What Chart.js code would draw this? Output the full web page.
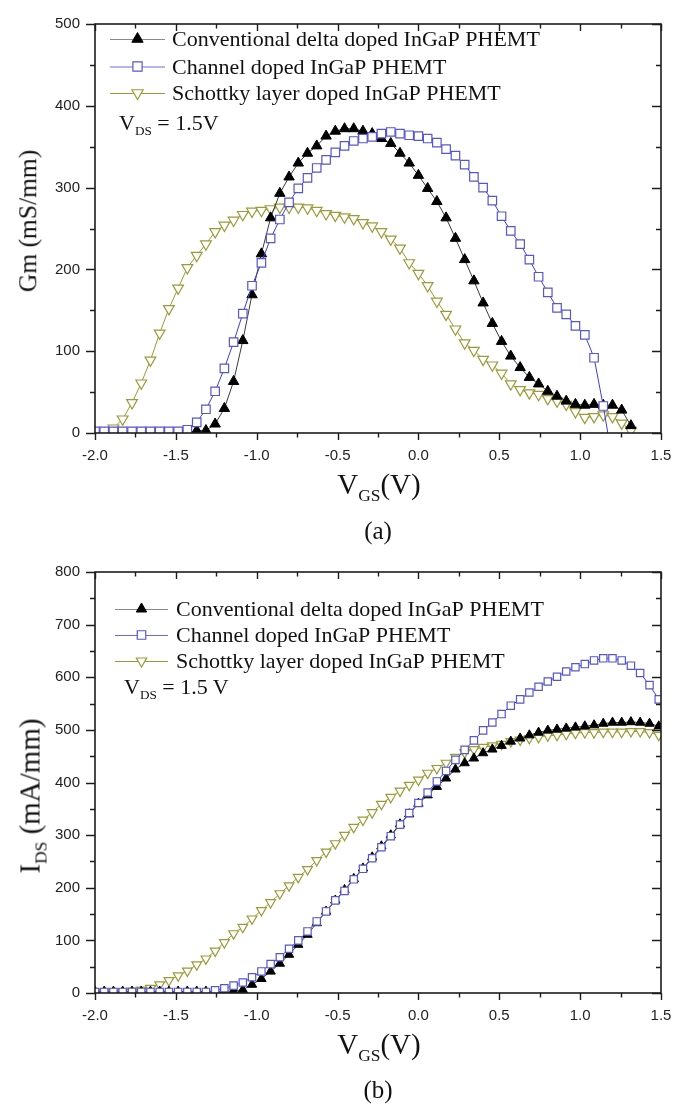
<!DOCTYPE html>
<html>
<head>
<meta charset="utf-8">
<script src="https://cdn.jsdelivr.net/npm/chart.js@4.4.1/dist/chart.umd.min.js"></script>
<style>
  html, body { margin: 0; padding: 0; background: #fff; }
  body { width: 693px; height: 1108px; position: relative; overflow: hidden;
         font-family: "Liberation Serif", "Times New Roman", serif; color: #111; }
  canvas { position: absolute; left: 0; }
  .t { position: absolute; white-space: nowrap; line-height: 1; }
  .t sub { font-size: 0.6em; vertical-align: baseline; position: relative; top: 0.38em; }
  .ctr { transform: translateX(-50%); }
  .rot { transform: translate(-50%, -50%) rotate(-90deg); }
</style>
</head>
<body>
<canvas id="gmChart" width="693" height="548" style="top:0"></canvas>
<canvas id="idsChart" width="693" height="560" style="top:548px"></canvas>

<div class="t rot" style="left:28px; top:221px; font-size:25.5px;">Gm (mS/mm)</div>
<div class="t ctr" style="left:379px; top:470px; font-size:29px;">V<sub>GS</sub>(V)</div>
<div class="t ctr" style="left:378px; top:518px; font-size:25px;">(a)</div>
<div class="t" style="left:119px; top:112px; font-size:22px;">V<sub>DS</sub> = 1.5V</div>

<div class="t rot" style="left:30px; top:796px; font-size:29px;">I<sub>DS</sub> (mA/mm)</div>
<div class="t ctr" style="left:379px; top:1030px; font-size:29px;">V<sub>GS</sub>(V)</div>
<div class="t ctr" style="left:378px; top:1077px; font-size:25px;">(b)</div>
<div class="t" style="left:124px; top:676px; font-size:22px;">V<sub>DS</sub> = 1.5 V</div>

<script>
// Gate bias sweep shared by every curve (V)
const vgs = [
  -2.000, -1.943, -1.886, -1.829, -1.771, -1.714, -1.657, -1.600, -1.543, -1.486,
  -1.429, -1.371, -1.314, -1.257, -1.200, -1.143, -1.086, -1.029, -0.971, -0.914,
  -0.857, -0.800, -0.743, -0.686, -0.629, -0.571, -0.514, -0.457, -0.400, -0.343,
  -0.286, -0.229, -0.171, -0.114, -0.057,  0.000,  0.057,  0.114,  0.171,  0.229,
   0.286,  0.343,  0.400,  0.457,  0.514,  0.571,  0.629,  0.686,  0.743,  0.800,
   0.857,  0.914,  0.971,  1.029,  1.086,  1.143,  1.200,  1.257,  1.314,  1.371,
   1.429,  1.486
];

const seriesNames = [
  'Conventional delta doped InGaP PHEMT',
  'Channel doped InGaP PHEMT',
  'Schottky layer doped InGaP PHEMT'
];

// (a) transconductance, mS/mm
const gmConventional = [
  0, 0, 0, 0, 0, 0, 0, 0, 0, 0,
  0, 3, 3, 11, 30, 63, 113, 169, 219, 263,
  293, 313, 330, 342, 351, 363, 369, 372, 372, 369,
  366, 360, 354, 342, 330, 315, 299, 283, 263, 238,
  212, 186, 159, 134, 112, 94, 80, 68, 60, 51,
  45, 39, 35, 34, 35, 34, 34, 28, 9, null,
  null, null
];
const gmChannel = [
  2, 2, 2, 2, 2, 2, 2, 2, 2, 2,
  4, 13, 29, 51, 79, 111, 146, 180, 208, 238,
  261, 282, 299, 312, 324, 334, 343, 351, 357, 360,
  362, 366, 368, 366, 364, 363, 360, 355, 347, 339,
  328, 313, 300, 284, 265, 247, 231, 212, 191, 172,
  153, 145, 131, 120, 92, 33, -34, null, null, null,
  null, null
];
const gmSchottky = [
  1, 2, 6, 17, 37, 61, 89, 122, 152, 177,
  202, 217, 231, 246, 254, 260, 267, 271, 272, 274,
  276, 276, 276, 275, 272, 268, 266, 264, 262, 257,
  253, 246, 237, 226, 208, 195, 180, 161, 145, 127,
  110, 101, 90, 83, 73, 60, 53, 49, 47, 42,
  39, 35, 26, 19, 20, 22, 20, 12, 3, null,
  null, null
];

// (b) drain current, mA/mm
const idsConventional = [
  3, 3, 3, 3, 3, 3, 3, 3, 3, 3,
  3, 3, 3, 3, 3, 4, 6, 16, 27, 41,
  56, 73, 92, 111, 133, 155, 176, 196, 217, 237,
  258, 279, 300, 321, 340, 360, 376, 392, 408, 425,
  437, 446, 456, 463, 470, 478, 484, 490, 495, 499,
  501, 503, 505, 507, 509, 512, 514, 514, 515, 514,
  512, 507
];
const idsChannel = [
  2, 2, 2, 2, 2, 2, 2, 2, 2, 2,
  2, 2, 2, 5, 9, 14, 20, 30, 41, 55,
  68, 84, 100, 117, 136, 155, 176, 194, 216, 236,
  256, 277, 298, 320, 342, 361, 381, 402, 422, 443,
  462, 480, 499, 514, 530, 546, 558, 571, 582, 592,
  601, 611, 619, 625, 632, 636, 636, 632, 622, 608,
  585, 558
];
const idsSchottky = [
  2, 2, 2, 3, 4, 6, 9, 16, 24, 33,
  42, 54, 65, 80, 96, 113, 125, 141, 157, 172,
  189, 204, 220, 235, 252, 268, 284, 300, 315, 329,
  343, 359, 372, 384, 395, 405, 418, 427, 437, 448,
  457, 463, 467, 470, 473, 478, 481, 484, 486, 489,
  490, 492, 494, 495, 495, 496, 496, 496, 497, 497,
  495, 490
];

// Axis ranges and tick spacing
const xRange = [-2, 1.5];
const xStep = 0.25, xMajor = 0.5;
const gmRange = [0, 500];
const idsRange = [0, 800];
const yStep = 50, yMajor = 100;

const AXIS = '#1c1c1c';
const TICK_FONT = { family: '"Liberation Sans", Arial, sans-serif', size: 15 };

const styles = [
  { line: '#3a3a3a', key: '#8a8a8a', marker: 'triangle', rot: 0,   fill: '#000', stroke: '#000', lw: 1 },
  { line: '#3c3cdc', key: '#6a6ae0', marker: 'rect',     rot: 0,   fill: '#fff', stroke: '#5656cf', lw: 1.2 },
  { line: '#9a9a36', key: '#9a9a36', marker: 'triangle', rot: 180, fill: '#fff', stroke: '#9b9b3a', lw: 1.2 }
];

function isMultiple(v, m) {
  const q = v / m;
  return Math.abs(q - Math.round(q)) < 1e-6;
}

// marker drawing for the key, same geometry as Chart.js point styles
function drawMarker(ctx, st, x, y, r) {
  ctx.save();
  ctx.beginPath();
  if (st.marker === 'rect') {
    const s = r * Math.SQRT1_2;
    ctx.rect(x - s, y - s, 2 * s, 2 * s);
  } else {
    let a = st.rot * Math.PI / 180;
    for (let k = 0; k < 3; k++) {
      const px = x + Math.sin(a) * r, py = y - Math.cos(a) * r;
      if (k === 0) ctx.moveTo(px, py); else ctx.lineTo(px, py);
      a += 2 * Math.PI / 3;
    }
    ctx.closePath();
  }
  ctx.fillStyle = st.fill;
  ctx.fill();
  ctx.lineWidth = st.lw;
  ctx.strokeStyle = st.stroke;
  ctx.stroke();
  ctx.restore();
}

// frame on all four sides, ticks outward on left/bottom and inward on top/right
const frameTicks = {
  id: 'frameTicks',
  afterDraw(chart) {
    const { ctx, chartArea: a, scales: { x, y } } = chart;
    ctx.save();
    ctx.strokeStyle = AXIS;
    ctx.lineWidth = 1.6;
    ctx.strokeRect(a.left, a.top, a.right - a.left, a.bottom - a.top);
    ctx.lineWidth = 1.4;
    ctx.beginPath();
    x.ticks.forEach(t => {
      const px = Math.round(x.getPixelForValue(t.value)) + 0.5;
      const len = isMultiple(t.value, xMajor) ? 7 : 4.5;
      ctx.moveTo(px, a.bottom); ctx.lineTo(px, a.bottom + len);
      ctx.moveTo(px, a.top);    ctx.lineTo(px, a.top + len);
    });
    y.ticks.forEach(t => {
      const py = Math.round(y.getPixelForValue(t.value)) + 0.5;
      const len = isMultiple(t.value, yMajor) ? 9 : 5;
      ctx.moveTo(a.left - len, py); ctx.lineTo(a.left, py);
      ctx.moveTo(a.right - len, py); ctx.lineTo(a.right, py);
    });
    ctx.stroke();
    ctx.restore();
  }
};

// key with a short line through each marker
const curveKey = {
  id: 'curveKey',
  afterDraw(chart, args, o) {
    const ctx = chart.ctx;
    ctx.save();
    ctx.font = o.fontSize + 'px "Liberation Serif", "Times New Roman", serif';
    ctx.textBaseline = 'alphabetic';
    ctx.fillStyle = '#111';
    seriesNames.forEach((name, i) => {
      const st = styles[i];
      const yy = o.rows[i];
      ctx.strokeStyle = st.key;
      ctx.lineWidth = 1;
      ctx.beginPath();
      ctx.moveTo(o.x0, yy + 0.5); ctx.lineTo(o.x1, yy + 0.5);
      ctx.stroke();
      drawMarker(ctx, st, (o.x0 + o.x1) / 2, yy, o.r);
      ctx.fillText(name, o.textX, yy + o.fontSize * 0.33);
    });
    ctx.restore();
  }
};

function makeDatasets(values, radius) {
  return values.map((arr, i) => {
    const st = styles[i];
    return {
      label: seriesNames[i],
      data: vgs.map((v, k) => ({ x: v, y: arr[k] })),
      borderColor: st.line,
      borderWidth: 1,
      tension: 0,
      pointStyle: st.marker,
      pointRotation: st.rot,
      pointRadius: radius[i],
      pointBackgroundColor: st.fill,
      pointBorderColor: st.stroke,
      pointBorderWidth: st.lw,
      order: [1, 0, 2][i]
    };
  });
}

function makeChart(id, values, yRange, padTop, plotBottom, radius, key) {
  const canvas = document.getElementById(id);
  const H = canvas.height;
  return new Chart(canvas, {
    type: 'line',
    data: { datasets: makeDatasets(values, radius) },
    options: {
      responsive: false,
      animation: false,
      devicePixelRatio: 1,
      layout: { padding: { top: padTop, right: 32, left: 0, bottom: 0 } },
      plugins: { legend: { display: false }, tooltip: { enabled: false }, curveKey: key },
      scales: {
        x: {
          type: 'linear', min: xRange[0], max: xRange[1],
          border: { display: false },
          grid: { display: false, drawTicks: false },
          ticks: {
            stepSize: xStep, autoSkip: false, maxRotation: 0, padding: 14,
            color: '#222', font: TICK_FONT,
            callback: v => isMultiple(v, xMajor) ? v.toFixed(1) : ''
          },
          afterFit: s => { s.height = H - plotBottom; }
        },
        y: {
          type: 'linear', min: yRange[0], max: yRange[1],
          border: { display: false },
          grid: { display: false, drawTicks: false },
          ticks: {
            stepSize: yStep, autoSkip: false, padding: 15,
            color: '#222', font: TICK_FONT,
            callback: v => isMultiple(v, yMajor) ? String(v) : ''
          },
          afterFit: s => { s.width = 95; }
        }
      }
    },
    plugins: [frameTicks, curveKey]
  });
}

makeChart('gmChart', [gmConventional, gmChannel, gmSchottky], gmRange, 11, 433, [6, 6, 6.2],
  { x0: 110, x1: 165, textX: 172, rows: [39, 66.5, 93], r: 6.5, fontSize: 22 });

makeChart('idsChart', [idsConventional, idsChannel, idsSchottky], idsRange, 24, 445, [5.4, 5.2, 5.6],
  { x0: 115, x1: 168, textX: 176, rows: [61, 87, 113], r: 6, fontSize: 22 });
</script>
</body>
</html>
